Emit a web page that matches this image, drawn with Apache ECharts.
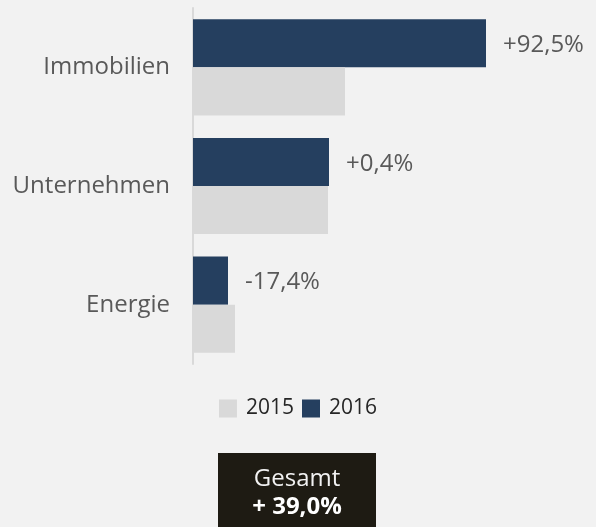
<!DOCTYPE html>
<html>
<head>
<meta charset="utf-8">
<script src="https://cdn.jsdelivr.net/npm/echarts@6/dist/echarts.min.js"></script>
<style>
html,body{margin:0;padding:0;background:#f2f2f2;}
#chart{width:596px;height:527px;}
</style>
</head>
<body>
<div id="chart"></div>
<script>
var categories = ['Immobilien', 'Unternehmen', 'Energie'];
var values2015 = [152, 135, 42];
var values2016 = [293, 136, 35];
var changeLabels = ['+92,5%', '+0,4%', '-17,4%'];
var seriesNames = ['2015', '2016'];
var totalTitle = 'Gesamt';
var totalValue = '+ 39,0%';

var FONT = 'Open Sans';
var chart = echarts.init(document.getElementById('chart'));
chart.setOption({
  backgroundColor: '#f2f2f2',
  animation: false,
  grid: {left: 193, top: 8, width: 400, height: 356},
  xAxis: {type: 'value', min: 0, max: 400, show: false},
  yAxis: {
    type: 'category', data: categories, inverse: true,
    axisLine: {lineStyle: {color: '#d9d9d9', width: 2}},
    axisTick: {show: false},
    axisLabel: {fontFamily: FONT, fontSize: 24, color: '#595959', margin: 23}
  },
  legend: {
    data: seriesNames, left: 'center', top: 398, padding: 0,
    itemWidth: 18, itemHeight: 18, itemGap: 8, icon: 'rect',
    textStyle: {fontFamily: FONT, fontSize: 21, color: '#262626', padding: [0, 0, 0, 4]}
  },
  series: [
    {
      name: seriesNames[1], type: 'bar', data: values2016,
      barGap: '0%', barCategoryGap: '19%',
      itemStyle: {color: '#253f5f'},
      label: {
        show: true, position: 'right', distance: 17, offset: [0, 2],
        fontFamily: FONT, fontSize: 24, color: '#595959',
        formatter: function (p) { return changeLabels[p.dataIndex]; }
      }
    },
    {
      name: seriesNames[0], type: 'bar', data: values2015,
      barGap: '0%', barCategoryGap: '19%',
      itemStyle: {color: '#d9d9d9'}
    }
  ],
  graphic: [
    {type: 'rect', left: 218, top: 453, shape: {width: 158, height: 80}, style: {fill: '#1e1b13'}},
    {type: 'text', x: 297, y: 479, style: {text: totalTitle, fill: '#f2f2f2', font: '24px "Open Sans"', align: 'center', verticalAlign: 'middle'}},
    {type: 'text', x: 297, y: 507, style: {text: totalValue, fill: '#ffffff', font: 'bold 24px "Open Sans"', align: 'center', verticalAlign: 'middle'}}
  ]
});
</script>
</body>
</html>
